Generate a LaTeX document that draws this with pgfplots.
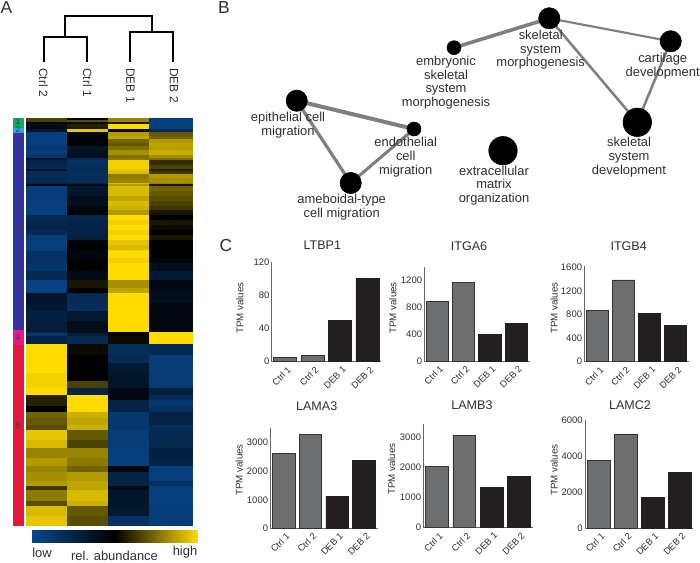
\documentclass[border=0pt]{standalone}
\usepackage{fontspec}
\setmainfont{Liberation Sans}
\usepackage{pgfplots}
\pgfplotsset{compat=1.18}
\definecolor{txt}{HTML}{2E2E2E}
\definecolor{ctrl}{HTML}{6D6E70}
\definecolor{deb}{HTML}{231F20}
\definecolor{edgec}{HTML}{7F7F7F}
\tikzset{net label/.style={font=\fontsize{9.7}{10.3}\selectfont,text=txt,align=center,inner sep=0pt,anchor=center}}
\pgfplotsset{
  bar panel/.style={
    scale only axis, anchor=south west,
    axis x line=bottom, axis y line=left,
    axis line style={-,draw=black!60,line width=.7pt},
    ymin=0, xtick={0,1,2,3},
    xticklabels={Ctrl 1,Ctrl 2,DEB 1,DEB 2},
    major tick length=0pt,
    /pgf/number format/assume math mode=true,
    /pgf/number format/1000 sep={},
    scaled y ticks=false,
    x tick label style={rotate=45,anchor=north east,font=\fontsize{6.9}{7}\selectfont,text=txt,inner sep=1pt,yshift=-2pt},
    y tick label style={font=\fontsize{7.1}{8}\selectfont,text=txt,inner sep=1.5pt},
    title style={font=\fontsize{9.4}{11}\selectfont,text=txt,anchor=center,inner sep=0pt},
    ylabel style={font=\fontsize{7.3}{8}\selectfont,text=txt,anchor=center,inner sep=0pt},
    clip=false,
  },
  ctrl bar/.style={ybar,bar shift=0pt,fill=ctrl,draw=black!80,line width=.5pt},
  deb bar/.style={ybar,bar shift=0pt,fill=deb,draw=deb,line width=.5pt},
}
\begin{document}
\begin{tikzpicture}
\path[use as bounding box] (0,0) rectangle (525pt,421.5pt);
\begin{axis}[
  at={(0pt,0pt)}, anchor=south west, scale only axis,
  width=525pt, height=421.5pt,
  xmin=0,xmax=700,ymin=0,ymax=562, y dir=reverse,
  axis lines=none, clip=false,
  colormap={hm}{rgb255=(8,70,140) rgb255=(0,0,0) rgb255=(255,220,0)},
  point meta min=-1, point meta max=1,
]
% heat map: row top edges, values for Ctrl 2, Ctrl 1, DEB 1, DEB 2
\addplot[surf, shader=flat corner, mesh/cols=5, point meta=explicit, forget plot] coordinates {
(26,118)[.3] (66.8,118)[0] (108.2,118)[.6] (149.5,118)[-.9] (192,118)[0]
(26,120)[.3] (66.8,120)[.35] (108.2,120)[.6] (149.5,120)[-.9] (192,120)[0]
(26,122.7)[-.1] (66.8,122.7)[.05] (108.2,122.7)[.1] (149.5,122.7)[-.9] (192,122.7)[0]
(26,124)[-.2] (66.8,124)[.15] (108.2,124)[1] (149.5,124)[-.9] (192,124)[0]
(26,127.3)[-.1] (66.8,127.3)[.1] (108.2,127.3)[1] (149.5,127.3)[-.9] (192,127.3)[0]
(26,129.3)[-.3] (66.8,129.3)[.9] (108.2,129.3)[-.05] (149.5,129.3)[-.6] (192,129.3)[0]
(26,132)[-.9] (66.8,132)[-.1] (108.2,132)[.7] (149.5,132)[.4] (192,132)[0]
(26,136)[-.9] (66.8,136)[0] (108.2,136)[.75] (149.5,136)[.45] (192,136)[0]
(26,139.3)[-.9] (66.8,139.3)[-.05] (108.2,139.3)[.45] (149.5,139.3)[.7] (192,139.3)[0]
(26,143.3)[-.85] (66.8,143.3)[-.05] (108.2,143.3)[.4] (149.5,143.3)[.75] (192,143.3)[0]
(26,146)[-.8] (66.8,146)[-.3] (108.2,146)[.5] (149.5,146)[.72] (192,146)[0]
(26,150)[-.85] (66.8,150)[-.25] (108.2,150)[.65] (149.5,150)[.8] (192,150)[0]
(26,155)[-.75] (66.8,155)[-.2] (108.2,155)[.5] (149.5,155)[.65] (192,155)[0]
(26,158.7)[-.3] (66.8,158.7)[-.6] (108.2,158.7)[.55] (149.5,158.7)[.5] (192,158.7)[0]
(26,160.7)[-.5] (66.8,160.7)[-.7] (108.2,160.7)[.95] (149.5,160.7)[.2] (192,160.7)[0]
(26,165)[-.55] (66.8,165)[-.65] (108.2,165)[.95] (149.5,165)[.3] (192,165)[0]
(26,169.3)[-.3] (66.8,169.3)[-.6] (108.2,169.3)[.9] (149.5,169.3)[.15] (192,169.3)[0]
(26,171.7)[-.6] (66.8,171.7)[-.65] (108.2,171.7)[.85] (149.5,171.7)[.25] (192,171.7)[0]
(26,174)[-.65] (66.8,174)[-.65] (108.2,174)[.55] (149.5,174)[.7] (192,174)[0]
(26,178.3)[-.6] (66.8,178.3)[-.65] (108.2,178.3)[.6] (149.5,178.3)[.65] (192,178.3)[0]
(26,183.3)[-.5] (66.8,183.3)[-.5] (108.2,183.3)[.85] (149.5,183.3)[.6] (192,183.3)[0]
(26,184.7)[-.1] (66.8,184.7)[-.1] (108.2,184.7)[.7] (149.5,184.7)[.1] (192,184.7)[0]
(26,186)[-.9] (66.8,186)[-.35] (108.2,186)[.85] (149.5,186)[.45] (192,186)[0]
(26,191.7)[-.85] (66.8,191.7)[-.3] (108.2,191.7)[.85] (149.5,191.7)[.4] (192,191.7)[0]
(26,196.7)[-.85] (66.8,196.7)[-.2] (108.2,196.7)[.75] (149.5,196.7)[.35] (192,196.7)[0]
(26,201.7)[-.9] (66.8,201.7)[-.2] (108.2,201.7)[.85] (149.5,201.7)[.3] (192,201.7)[0]
(26,206.7)[-.9] (66.8,206.7)[-.1] (108.2,206.7)[.8] (149.5,206.7)[.25] (192,206.7)[0]
(26,210)[-.9] (66.8,210)[-.05] (108.2,210)[.7] (149.5,210)[.1] (192,210)[0]
(26,215.3)[-.6] (66.8,215.3)[-.55] (108.2,215.3)[1] (149.5,215.3)[0] (192,215.3)[0]
(26,220)[-.55] (66.8,220)[-.5] (108.2,220)[.95] (149.5,220)[.1] (192,220)[0]
(26,225)[-.5] (66.8,225)[-.5] (108.2,225)[1] (149.5,225)[.05] (192,225)[0]
(26,230)[-.6] (66.8,230)[-.5] (108.2,230)[.95] (149.5,230)[0] (192,230)[0]
(26,235)[-.85] (66.8,235)[-.45] (108.2,235)[1] (149.5,235)[.1] (192,235)[0]
(26,240)[-.9] (66.8,240)[-.05] (108.2,240)[.9] (149.5,240)[0] (192,240)[0]
(26,245)[-.9] (66.8,245)[0] (108.2,245)[.85] (149.5,245)[0] (192,245)[0]
(26,250)[-.85] (66.8,250)[-.05] (108.2,250)[.95] (149.5,250)[-.05] (192,250)[0]
(26,251.7)[-.7] (66.8,251.7)[-.1] (108.2,251.7)[1] (149.5,251.7)[0] (192,251.7)[0]
(26,258.3)[-.7] (66.8,258.3)[-.05] (108.2,258.3)[.95] (149.5,258.3)[-.05] (192,258.3)[0]
(26,263.3)[-.75] (66.8,263.3)[0] (108.2,263.3)[1] (149.5,263.3)[-.2] (192,263.3)[0]
(26,271.7)[-.6] (66.8,271.7)[-.15] (108.2,271.7)[1] (149.5,271.7)[-.35] (192,271.7)[0]
(26,280)[-.95] (66.8,280)[.1] (108.2,280)[.65] (149.5,280)[-.1] (192,280)[0]
(26,288.3)[-.95] (66.8,288.3)[0] (108.2,288.3)[.75] (149.5,288.3)[-.15] (192,288.3)[0]
(26,293.3)[-.3] (66.8,293.3)[-.6] (108.2,293.3)[1] (149.5,293.3)[-.2] (192,293.3)[0]
(26,303.3)[-.35] (66.8,303.3)[-.65] (108.2,303.3)[1] (149.5,303.3)[-.1] (192,303.3)[0]
(26,311.7)[-.45] (66.8,311.7)[-.35] (108.2,311.7)[1] (149.5,311.7)[-.1] (192,311.7)[0]
(26,321.7)[-.4] (66.8,321.7)[-.2] (108.2,321.7)[1] (149.5,321.7)[-.1] (192,321.7)[0]
(26,332.3)[-.6] (66.8,332.3)[-.15] (108.2,332.3)[0] (149.5,332.3)[1] (192,332.3)[0]
(26,333.3)[-.75] (66.8,333.3)[-.4] (108.2,333.3)[0] (149.5,333.3)[1] (192,333.3)[0]
(26,336.7)[-.5] (66.8,336.7)[-.6] (108.2,336.7)[.05] (149.5,336.7)[1] (192,336.7)[0]
(26,344.7)[1] (66.8,344.7)[.05] (108.2,344.7)[-.65] (149.5,344.7)[-.6] (192,344.7)[0]
(26,355)[1] (66.8,355)[0] (108.2,355)[-.6] (149.5,355)[-.85] (192,355)[0]
(26,363.3)[1] (66.8,363.3)[0] (108.2,363.3)[-.35] (149.5,363.3)[-.85] (192,363.3)[0]
(26,373.3)[.95] (66.8,373.3)[0] (108.2,373.3)[-.3] (149.5,373.3)[-.85] (192,373.3)[0]
(26,381.7)[.95] (66.8,381.7)[.3] (108.2,381.7)[-.3] (149.5,381.7)[-.85] (192,381.7)[0]
(26,388.3)[1] (66.8,388.3)[-.5] (108.2,388.3)[-.1] (149.5,388.3)[-.45] (192,388.3)[0]
(26,395)[.15] (66.8,395)[1] (108.2,395)[-.1] (149.5,395)[-.6] (192,395)[0]
(26,400)[.15] (66.8,400)[1] (108.2,400)[-.5] (149.5,400)[-.8] (192,400)[0]
(26,406)[0] (66.8,406)[1] (108.2,406)[-.5] (149.5,406)[-.7] (192,406)[0]
(26,412.7)[.45] (66.8,412.7)[.8] (108.2,412.7)[-.8] (149.5,412.7)[-.5] (192,412.7)[0]
(26,418.3)[.4] (66.8,418.3)[.75] (108.2,418.3)[-.8] (149.5,418.3)[-.5] (192,418.3)[0]
(26,425)[.35] (66.8,425)[.8] (108.2,425)[-.8] (149.5,425)[-.65] (192,425)[0]
(26,430)[.9] (66.8,430)[.4] (108.2,430)[-.85] (149.5,430)[-.6] (192,430)[0]
(26,440)[.85] (66.8,440)[.3] (108.2,440)[-.85] (149.5,440)[-.55] (192,440)[0]
(26,448.3)[.6] (66.8,448.3)[.6] (108.2,448.3)[-.9] (149.5,448.3)[-.45] (192,448.3)[0]
(26,458.3)[.7] (66.8,458.3)[.55] (108.2,458.3)[-.9] (149.5,458.3)[-.5] (192,458.3)[0]
(26,466.7)[.6] (66.8,466.7)[.45] (108.2,466.7)[-.1] (149.5,466.7)[-.9] (192,466.7)[0]
(26,472.7)[.65] (66.8,472.7)[.7] (108.2,472.7)[-.5] (149.5,472.7)[-.9] (192,472.7)[0]
(26,481.7)[.7] (66.8,481.7)[.75] (108.2,481.7)[-.5] (149.5,481.7)[-.7] (192,481.7)[0]
(26,486.7)[.25] (66.8,486.7)[.75] (108.2,486.7)[-.15] (149.5,486.7)[-.9] (192,486.7)[0]
(26,490)[.55] (66.8,490)[.85] (108.2,490)[-.3] (149.5,490)[-.9] (192,490)[0]
(26,501.7)[.35] (66.8,501.7)[.8] (108.2,501.7)[-.3] (149.5,501.7)[-.9] (192,501.7)[0]
(26,506.7)[.85] (66.8,506.7)[.4] (108.2,506.7)[-.35] (149.5,506.7)[-.85] (192,506.7)[0]
(26,516.7)[.9] (66.8,516.7)[.35] (108.2,516.7)[-.7] (149.5,516.7)[-.85] (192,516.7)[0]
(26,525.7)[0] (66.8,525.7)[0] (108.2,525.7)[0] (149.5,525.7)[0] (192,525.7)[0]
};
% colour bar
\addplot[surf, shader=interp, mesh/cols=2, point meta=explicit, forget plot] coordinates {
(32.3,530)[-1] (197.7,530)[1]
(32.3,542.3)[-1] (197.7,542.3)[1]
};
% cluster strip
\addplot[fill={rgb,255:red,16;green,170;blue,96},draw=none] coordinates {(12.7,118)(23.7,118)(23.7,127.7)(12.7,127.7)} --cycle;
\addplot[fill={rgb,255:red,34;green,168;blue,224},draw=none] coordinates {(12.7,127.7)(23.7,127.7)(23.7,133)(12.7,133)} --cycle;
\addplot[fill={rgb,255:red,52;green,52;blue,160},draw=none] coordinates {(12.7,133)(23.7,133)(23.7,330)(12.7,330)} --cycle;
\addplot[fill={rgb,255:red,232;green,21;blue,140},draw=none] coordinates {(12.7,330)(23.7,330)(23.7,345)(12.7,345)} --cycle;
\addplot[fill={rgb,255:red,226;green,24;blue,60},draw=none] coordinates {(12.7,345)(23.7,345)(23.7,525.7)(12.7,525.7)} --cycle;
% dendrogram
\addplot[black,line width=1.3pt,line join=miter] coordinates {(44,61.7)(44,37.3)(87.3,37.3)(87.3,61.7)};
\addplot[black,line width=1.3pt,line join=miter] coordinates {(130,61.7)(130,32.3)(173.3,32.3)(173.3,61.7)};
\addplot[black,line width=1.3pt,line join=miter] coordinates {(65,37.3)(65,15.7)(152.3,15.7)(152.3,32.3)};
% network edges
\addplot[edgec,line width=3pt] coordinates {(296.7,100.7)(414,129)};
\addplot[edgec,line width=2.4pt] coordinates {(296.7,100.7)(350.7,183)};
\addplot[edgec,line width=2.3pt] coordinates {(350.7,183)(414,129)};
\addplot[edgec,line width=2.7pt] coordinates {(454,47.7)(549.3,18.3)};
\addplot[edgec,line width=1.6pt] coordinates {(549.3,18.3)(670.7,41.3)};
\addplot[edgec,line width=1.9pt] coordinates {(549.3,18.3)(637.3,122.3)};
\addplot[edgec,line width=1.9pt] coordinates {(670.7,41.3)(637.3,122.3)};
% network nodes
\addplot[only marks,mark=*,mark size=5.25pt,black] coordinates {(414,129)(454,47.7)};
\addplot[only marks,mark=*,mark size=8pt,black] coordinates {(296.7,100.7)(350.7,183)(549.3,18.3)(670.7,41.3)};
\addplot[only marks,mark=*,mark size=10.7pt,black] coordinates {(637.3,122.3)(503,150.7)};
% text
\node[net label] at (axis cs:288,125.3) {epithelial cell\\migration};
\node[net label] at (axis cs:405.7,157) {endothelial\\cell\\migration};
\node[net label] at (axis cs:341.7,207.3) {ameboidal-type\\cell migration};
\node[net label] at (axis cs:446,82.7) {embryonic\\skeletal\\system\\morphogenesis};
\node[net label] at (axis cs:540.7,49.7) {skeletal\\system\\morphogenesis};
\node[net label] at (axis cs:662.7,66) {cartilage\\development};
\node[net label] at (axis cs:629,157) {skeletal\\system\\development};
\node[net label] at (axis cs:494,185.5) {extracellular\\matrix\\organization};
\node[rotate=-90,anchor=west,inner sep=0pt,font=\fontsize{9}{10}\selectfont,text=txt] at (axis cs:43.5,68) {Ctrl 2};
\node[rotate=-90,anchor=west,inner sep=0pt,font=\fontsize{9}{10}\selectfont,text=txt] at (axis cs:87.3,68) {Ctrl 1};
\node[rotate=-90,anchor=west,inner sep=0pt,font=\fontsize{9}{10}\selectfont,text=txt] at (axis cs:130.5,68) {DEB 1};
\node[rotate=-90,anchor=west,inner sep=0pt,font=\fontsize{9}{10}\selectfont,text=txt] at (axis cs:174,68) {DEB 2};
\node[font=\fontsize{13}{14}\selectfont,text=txt,inner sep=0pt] at (axis cs:6.5,8) {A};
\node[font=\fontsize{13}{14}\selectfont,text=txt,inner sep=0pt] at (axis cs:224,8) {B};
\node[font=\fontsize{13}{14}\selectfont,text=txt,inner sep=0pt] at (axis cs:226,246) {C};
\node[font=\fontsize{9.7}{10}\selectfont,text=txt,inner sep=0pt] at (axis cs:42,552.7) {low};
\node[font=\fontsize{9.7}{10}\selectfont,text=txt,inner sep=0pt] at (axis cs:114.5,555.5) {rel. abundance};
\node[font=\fontsize{9.7}{10}\selectfont,text=txt,inner sep=0pt] at (axis cs:185,552.3) {high};
\node[font=\fontsize{6.3}{7}\selectfont,text=black!75,inner sep=0pt] at (axis cs:18,122) {1};
\node[font=\fontsize{6.3}{7}\selectfont,text=black!75,inner sep=0pt] at (axis cs:18,130) {2};
\node[font=\fontsize{6.3}{7}\selectfont,text=black!75,inner sep=0pt] at (axis cs:18,231) {3};
\node[font=\fontsize{6.3}{7}\selectfont,text=black!75,inner sep=0pt] at (axis cs:18,338) {4};
\node[font=\fontsize{6.3}{7}\selectfont,text=black!75,inner sep=0pt] at (axis cs:18,426) {5};
\end{axis}

% LTBP1
\begin{axis}[bar panel, at={({271.7*.75pt},{(562-361.7)*.75pt})},
  width=82pt, height=74.55pt, xmin=-.484, xmax=3.49, ymax=120, ytick={0,40,80,120},
  bar width=17.5pt,
  title={LTBP1}, title style={at={(axis description cs:.463,1.094)}},
  ylabel={TPM values}, ylabel style={at={(axis description cs:-.29,.54)}}]
\addplot[ctrl bar] coordinates {(0,5) (1,7.5)};
\addplot[deb bar] coordinates {(2,50) (3,101)};
\end{axis}
% ITGA6
\begin{axis}[bar panel, at={({424.3*.75pt},{(562-361)*.75pt})},
  width=79.3pt, height=70.3pt, xmin=-.49, xmax=3.53, ymax=1390, ytick={0,400,800,1200},
  bar width=16.6pt,
  title={ITGA6}, title style={at={(axis description cs:.423,1.142)}},
  ylabel={TPM values}, ylabel style={at={(axis description cs:-.296,.566)}}]
\addplot[ctrl bar] coordinates {(0,880) (1,1170)};
\addplot[deb bar] coordinates {(2,395) (3,563)};
\end{axis}
% ITGB4
\begin{axis}[bar panel, at={({584.3*.75pt},{(562-361.7)*.75pt})},
  width=78.3pt, height=71.8pt, xmin=-.515, xmax=3.5, ymax=1620, ytick={0,400,800,1200,1600},
  bar width=16.5pt,
  title={ITGB4}, title style={at={(axis description cs:.425,1.125)}},
  ylabel={TPM values}, ylabel style={at={(axis description cs:-.29,.561)}}]
\addplot[ctrl bar] coordinates {(0,862) (1,1384)};
\addplot[deb bar] coordinates {(2,811) (3,613)};
\end{axis}
% LAMA3
\begin{axis}[bar panel, at={({270.3*.75pt},{(562-528.3)*.75pt})},
  width=80.55pt, height=75.45pt, xmin=-.496, xmax=3.51, ymax=3524, ytick={0,1000,2000,3000},
  bar width=17pt,
  title={LAMA3}, title style={at={(axis description cs:.432,1.136)}},
  ylabel={TPM values}, ylabel style={at={(axis description cs:-.289,.58)}}]
\addplot[ctrl bar] coordinates {(0,2614) (1,3280)};
\addplot[deb bar] coordinates {(2,1108) (3,2369)};
\end{axis}
% LAMB3
\begin{axis}[bar panel, at={({423.3*.75pt},{(562-527.7)*.75pt})},
  width=82pt, height=77.8pt, xmin=-.502, xmax=3.505, ymax=3455, ytick={0,1000,2000,3000},
  bar width=17pt,
  title={LAMB3}, title style={at={(axis description cs:.445,1.106)}},
  ylabel={TPM values}, ylabel style={at={(axis description cs:-.289,.566)}}]
\addplot[ctrl bar] coordinates {(0,2044) (1,3078)};
\addplot[deb bar] coordinates {(2,1344) (3,1722)};
\end{axis}
% LAMC2
\begin{axis}[bar panel, at={({585*.75pt},{(562-528.3)*.75pt})},
  width=81.2pt, height=81.2pt, xmin=-.507, xmax=3.504, ymax=6000, ytick={0,2000,4000,6000},
  bar width=17pt,
  title={LAMC2}, title style={at={(axis description cs:.416,1.065)}},
  ylabel={TPM values}, ylabel style={at={(axis description cs:-.286,.538)}}]
\addplot[ctrl bar] coordinates {(0,3779) (1,5235)};
\addplot[deb bar] coordinates {(2,1696) (3,3097)};
\end{axis}
\end{tikzpicture}
\end{document}
